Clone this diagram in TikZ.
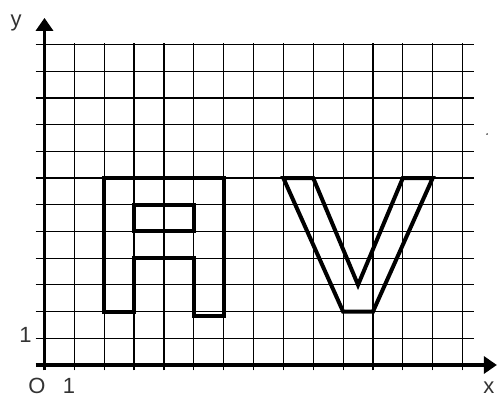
\documentclass[tikz,border=0pt]{standalone}
\usepackage{fontspec}
\setmainfont{Liberation Sans}
\usetikzlibrary{arrows.meta}
\begin{document}
\begin{tikzpicture}[x=29.86pt,y=26.7pt,
  gridline/.style={line width=1.2pt,black},
  axisline/.style={line width=3.6pt,black,-{Triangle[length=13pt,width=17pt]}},
  letter/.style={line width=4pt,black,line join=miter},
  lab/.style={font=\fontsize{22}{24}\selectfont,text=black!80,inner sep=0pt,anchor=base}]
\useasboundingbox (-1.490,-1.236) rectangle (15.154,13.670);
% grid
\foreach \j in {1,...,12} \draw[gridline] (-0.3,\j) -- (14.4,\j);
\foreach \i in {1,...,14} \draw[gridline] (\i,-0.2) -- (\i,12.05);
% axes
\coordinate (O) at (0,0);
\coordinate (xl) at (-0.3,0);
\coordinate (yl) at (0,-0.2);
\coordinate (xe) at (15.15,0);
\coordinate (ye) at (0,13.0);
\draw[axisline] (xl) -- (xe);
\draw[axisline] (yl) -- (ye);
% letter A
\draw[letter] (2,2) -- (2,7) -- (6,7) -- (6,1.85) -- (5,1.85) -- (5,4) -- (3,4) -- (3,2) -- cycle;
\draw[letter] (3,5) rectangle (5,6);
% letter V
\draw[letter] (8,7) -- (9,7) -- (10.5,3) -- (12,7) -- (13,7) -- (11,2) -- (10,2) -- cycle;
% stray dot
\fill (14.82,8.65) circle (0.8pt);
% labels
\node[lab] (ylab) at (-0.95,12.66) {y};
\node[lab] (xlab) at (14.88,-1.06) {x};
\node[lab] (olab) at (-0.25,-1.06) {O};
\node[lab] (x1) at (0.82,-1.06) {1};
\node[lab] (y1) at (-0.64,0.86) {1};
\end{tikzpicture}
\end{document}
